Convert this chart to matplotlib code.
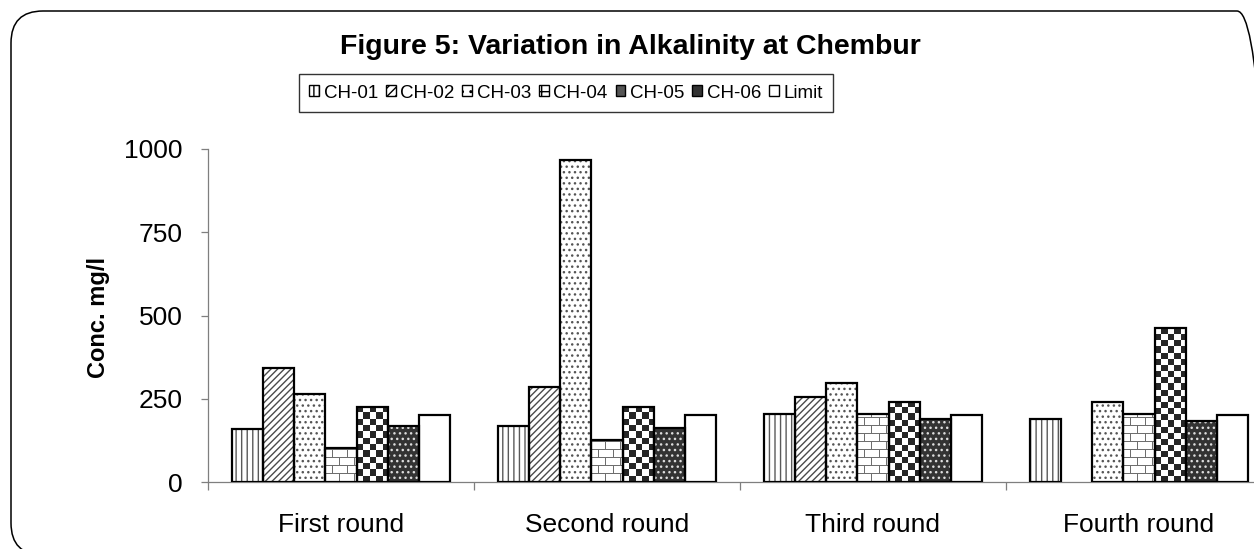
import numpy as np
import matplotlib
matplotlib.use("Agg")
import matplotlib.pyplot as plt
from matplotlib.patches import FancyBboxPatch, Patch
from matplotlib.colors import ListedColormap

# ---------------- data ----------------
rounds = ["First round", "Second round", "Third round", "Fourth round"]
series_names = ["CH-01", "CH-02", "CH-03", "CH-04", "CH-05", "CH-06", "Limit"]
ch01 = [160, 168, 204, 190]
ch02 = [342, 284, 254, np.nan]
ch03 = [264, 968, 298, 241]
ch04 = [102, 125, 204, 204]
ch05 = [226, 226, 241, 461]
ch06 = [168, 162, 190, 183]
limit = [200, 200, 200, 200]
y_ticks = [0, 250, 500, 750, 1000]
title = "Figure 5: Variation in Alkalinity at Chembur"
ylabel = "Conc. mg/l"

plt.rcParams['font.family'] = ['Liberation Sans', 'DejaVu Sans']
plt.rcParams['hatch.linewidth'] = 1.0

W, H = 1254, 549
fig = plt.figure(figsize=(W / 100, H / 100), dpi=100)
ax = fig.add_axes([208 / W, 67 / H, 1046 / W, 333 / H])
xmax = -0.5 + 1046 / 266
ax.set_xlim(-0.5, xmax)
ax.set_ylim(0, 1000)

series = [ch01, ch02, ch03, ch04, ch05, ch06, limit]
styles = [
    dict(kind="hatch", face="white", hatch="|||", hc="#5a5a5a"),
    dict(kind="hatch", face="white", hatch="/////", hc="#4a4a4a"),
    dict(kind="hatch", face="white", hatch="...", hc="#555555"),
    dict(kind="brick"),
    dict(kind="checker"),
    dict(kind="hatch", face="#333333", hatch="...", hc="#dddddd"),
    dict(kind="hatch", face="white", hatch="", hc="white"),
]

x = np.arange(len(rounds))
n = len(series)
w = 0.1175
offsets = (np.arange(n) - (n - 1) / 2) * w

brick_cmap = ListedColormap(["white", "#6e6e6e"])
check_cmap = ListedColormap(["white", "#262626"])

for vals, st, off in zip(series, styles, offsets):
    vals = np.asarray(vals, dtype=float)
    pos = x + off
    if st["kind"] == "hatch":
        ax.bar(pos, vals, w, color=st["face"], edgecolor=st["hc"],
               hatch=st["hatch"] or None, linewidth=0, zorder=2)
    else:
        rects = ax.bar(pos, vals, w, color="white", linewidth=0, zorder=2)
        for r in rects:
            h = r.get_height()
            if not np.isfinite(h) or h <= 0:
                continue
            x0 = r.get_x()
            (px0, py0) = ax.transData.transform((x0, 0))
            (px1, py1) = ax.transData.transform((x0 + w, h))
            wp = max(1, int(round(px1 - px0)))
            hp = max(1, int(round(py1 - py0)))
            if st["kind"] == "brick":
                rr, cc = np.mgrid[0:hp, 0:wp]
                course = rr // 8
                arr = ((rr % 8 == 0) |
                       (((cc + (course % 2) * 7) % 14) == 0)).astype(float)
                cmap = brick_cmap
            else:
                ncols = max(1, int(round(wp / 6)))
                nrows = max(1, int(round(hp / (wp / ncols))))
                rr, cc = np.mgrid[0:nrows, 0:ncols]
                arr = ((rr + cc) % 2).astype(float)
                cmap = check_cmap
            im = ax.imshow(arr, extent=(x0, x0 + w, 0, h), origin="lower",
                           cmap=cmap, vmin=0, vmax=1, interpolation="nearest",
                           aspect="auto", zorder=3)
            im.set_clip_path(r)
    ax.bar(pos, vals, w, fill=False, edgecolor="black", linewidth=1.6, zorder=4)

# axes styling
for s in ["top", "right"]:
    ax.spines[s].set_visible(False)
for s in ["left", "bottom"]:
    ax.spines[s].set_color("#7f7f7f")
    ax.spines[s].set_linewidth(0.9)

ax.set_xticks(np.arange(-0.5, len(rounds) - 0.5, 1.0))
ax.set_xticklabels([])
ax.set_xticks(x, minor=True)
ax.set_xticklabels(rounds, minor=True, fontsize=19)
ax.tick_params(axis="x", which="major", length=6, width=0.9, color="#7f7f7f", direction="out")
ax.tick_params(axis="x", which="minor", length=0, pad=22)
ax.set_yticks(y_ticks)
ax.set_yticklabels([str(v) for v in y_ticks], fontsize=19)
ax.tick_params(axis="y", length=5, width=0.9, color="#7f7f7f", pad=13)

ax.set_xlim(-0.5, xmax)
ax.set_ylim(0, 1000)

fig.text(98 / W, 1 - 317 / H, ylabel, rotation=90, ha="center", va="center",
         fontsize=17, fontweight="bold")
fig.text(630 / W, 1 - 47 / H, title, ha="center", va="center",
         fontsize=20.5, fontweight="bold")

# legend
handles = [
    Patch(facecolor="white", edgecolor="black", hatch="|||"),
    Patch(facecolor="white", edgecolor="black", hatch="////"),
    Patch(facecolor="white", edgecolor="black", hatch=".."),
    Patch(facecolor="white", edgecolor="black", hatch="+"),
    Patch(facecolor="#555555", edgecolor="black"),
    Patch(facecolor="#333333", edgecolor="black"),
    Patch(facecolor="white", edgecolor="black"),
]
leg = fig.legend(handles, series_names, loc="center", ncol=7,
                 bbox_to_anchor=(566 / W, 1 - 93 / H), fontsize=13.5,
                 frameon=True, fancybox=False, edgecolor="black",
                 handlelength=0.52, handleheight=0.52, handletextpad=0.25,
                 columnspacing=0.42, borderpad=0.55, borderaxespad=0)
leg.get_frame().set_linewidth(1.0)

# rounded outer frame (extends beyond right/bottom edge)
frame = FancyBboxPatch((0.11, -0.06), 12.58, 5.44,
                       boxstyle="round,pad=0,rounding_size=0.32",
                       transform=fig.dpi_scale_trans, fill=False,
                       edgecolor="black", linewidth=1.1)
fig.add_artist(frame)

fig.savefig("out.png", dpi=100)
